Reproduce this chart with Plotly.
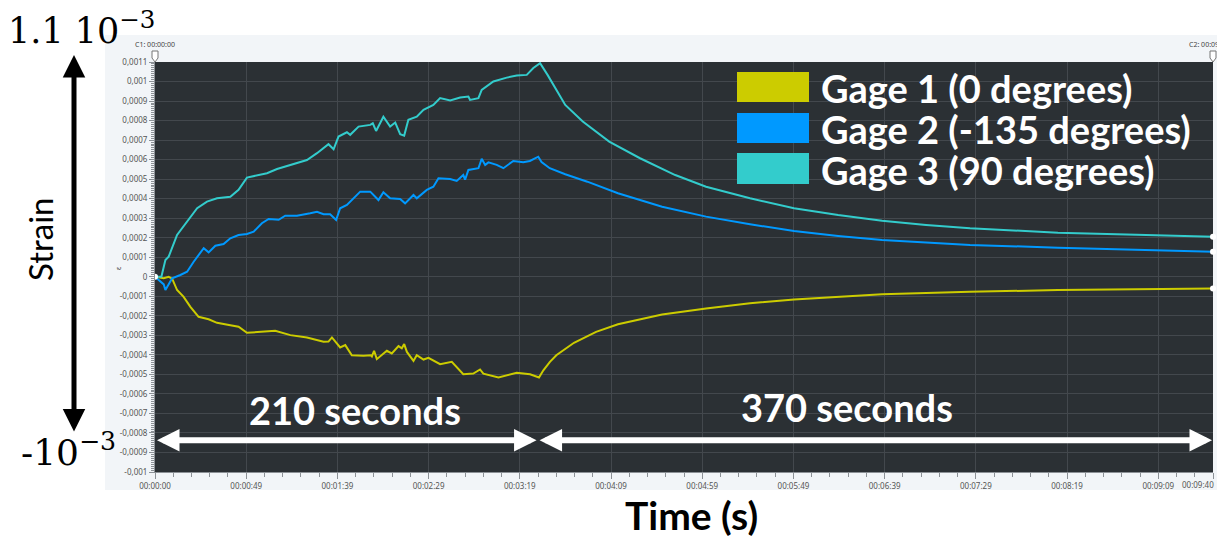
import numpy as np
import plotly.graph_objects as go

# ---------------- data (strain values in units of 1e-3) ----------------
gage_names = ["Gage 1 (0 degrees)", "Gage 2 (-135 degrees)", "Gage 3 (90 degrees)"]
gage_colors = ["#cccc00", "#0099ff", "#33cccc"]

gage1_t = [0, 4.8, 7.5, 9.4, 12.1, 15.7, 19.4, 23.9, 29.4, 34, 41.3, 45.8, 50.4, 57.7, 65.9,
           74.2, 83.3, 92.4, 95.1, 97, 101.5, 104.3, 107.9, 114.3, 118.3, 118.9, 120.1, 121.6,
           125.2, 127.1, 129.8, 131.6, 133.5, 135.3, 136.6, 138.1, 141.7, 143.5, 147.2, 149.9,
           156.3, 162.7, 169, 174.5, 178.2, 180, 188.3, 198.3, 205.6, 210.5, 212.9, 216.5, 220,
           229.7, 241.8, 253.8, 278, 302.1, 326.2, 350.3, 398.6, 446.8, 495, 580]
gage1_ms = [0, -0.008, 0.0, -0.01, -0.068, -0.103, -0.154, -0.205, -0.218, -0.236, -0.248, -0.256,
            -0.287, -0.282, -0.277, -0.299, -0.311, -0.333, -0.332, -0.311, -0.362, -0.35, -0.402,
            -0.405, -0.402, -0.408, -0.379, -0.422, -0.393, -0.379, -0.393, -0.372, -0.355, -0.366,
            -0.345, -0.385, -0.431, -0.402, -0.424, -0.415, -0.448, -0.436, -0.499, -0.496, -0.475,
            -0.496, -0.516, -0.492, -0.499, -0.516, -0.479, -0.436, -0.402, -0.338, -0.282, -0.243,
            -0.193, -0.162, -0.136, -0.116, -0.09, -0.077, -0.068, -0.06]

gage2_t = [0, 4.8, 5.7, 9.4, 13.9, 17.6, 21.2, 26.7, 29.4, 33.1, 37.6, 41.3, 45.8, 50.4, 54.1,
           58.6, 62.3, 67.8, 71.4, 77.8, 85.1, 88.8, 92.4, 96, 99.3, 101.5, 105.2, 107, 112.5,
           118, 122.5, 125.2, 128.9, 134.4, 137.1, 141.7, 143.5, 149, 152.6, 155.4, 161.8, 165.4,
           169, 170, 171.8, 177.3, 179.1, 181, 182.8, 187.3, 191, 196.4, 201.9, 205.5, 210.1,
           211.9, 216.4, 224.9, 237, 253.8, 278, 302.1, 326.2, 350.3, 374.5, 398.6, 446.8, 495,
           543.3, 580]
gage2_ms = [0, -0.039, -0.068, -0.008, 0.009, 0.026, 0.077, 0.146, 0.125, 0.159, 0.168, 0.197,
            0.214, 0.219, 0.231, 0.274, 0.296, 0.292, 0.313, 0.313, 0.325, 0.333, 0.32, 0.32,
            0.291, 0.351, 0.368, 0.385, 0.436, 0.436, 0.393, 0.433, 0.402, 0.398, 0.376, 0.419,
            0.402, 0.445, 0.461, 0.505, 0.501, 0.491, 0.521, 0.497, 0.547, 0.556, 0.604, 0.573,
            0.586, 0.573, 0.556, 0.593, 0.586, 0.593, 0.615, 0.588, 0.556, 0.525, 0.487, 0.428,
            0.359, 0.308, 0.269, 0.234, 0.209, 0.188, 0.163, 0.149, 0.137, 0.128]

gage3_t = [0, 3.5, 5.7, 7.5, 12.1, 17.6, 23.1, 28.5, 34, 41.3, 45.8, 50.4, 55.9, 61.4, 66.9,
           74.2, 83.3, 88.8, 95.1, 97.9, 100.6, 105.2, 107, 111.6, 118, 119.4, 121.2, 125.2,
           128.9, 131.7, 134.4, 136.6, 138.9, 143.5, 147.2, 152.6, 156.3, 161.8, 167.3, 171.8,
           172.7, 177.3, 179.1, 185.5, 192.8, 198.3, 203.8, 207.4, 211.1, 215.2, 224.9, 234.5,
           249, 265.9, 285.2, 302.1, 326.2, 350.3, 374.5, 398.6, 422.7, 446.8, 495, 543.3, 580]
gage3_ms = [0, 0, 0.086, 0.103, 0.214, 0.282, 0.351, 0.385, 0.402, 0.41, 0.445, 0.508, 0.518,
            0.53, 0.552, 0.573, 0.598, 0.633, 0.679, 0.653, 0.718, 0.74, 0.727, 0.769, 0.778,
            0.786, 0.747, 0.82, 0.769, 0.79, 0.73, 0.723, 0.804, 0.82, 0.855, 0.88, 0.915, 0.903,
            0.918, 0.923, 0.906, 0.915, 0.957, 1.0, 1.02, 1.031, 1.034, 1.069, 1.094, 1.034, 0.88,
            0.795, 0.692, 0.607, 0.521, 0.461, 0.402, 0.351, 0.316, 0.287, 0.265, 0.248, 0.226,
            0.214, 0.205]

x_tickvals = [0, 50, 100, 150, 200, 250, 300, 350, 400, 450, 500, 550, 580]
x_ticktext = ["00:00:00", "00:00:49", "00:01:39", "00:02:29", "00:03:19", "00:04:09", "00:04:59",
              "00:05:49", "00:06:39", "00:07:29", "00:08:19", "00:09:09", "00:09:40"]
y_tickvals = [-0.001, -0.0009, -0.0008, -0.0007, -0.0006, -0.0005, -0.0004, -0.0003, -0.0002,
              -0.0001, 0, 0.0001, 0.0002, 0.0003, 0.0004, 0.0005, 0.0006, 0.0007, 0.0008, 0.0009,
              0.001, 0.0011]
y_ticktext = ["-0,001", "-0,0009", "-0,0008", "-0,0007", "-0,0006", "-0,0005", "-0,0004",
              "-0,0003", "-0,0002", "-0,0001", "0", "0,0001", "0,0002", "0,0003", "0,0004",
              "0,0005", "0,0006", "0,0007", "0,0008", "0,0009", "0,001", "0,0011"]

phase_seconds = [210, 370]
phase_labels = ["210 seconds", "370 seconds"]

# ---------------- figure ----------------
series = [(gage1_t, gage1_ms), (gage2_t, gage2_ms), (gage3_t, gage3_ms)]
fig = go.Figure()
for (t, ms), name, col in zip(series, gage_names, gage_colors):
    fig.add_trace(go.Scatter(x=t, y=np.array(ms) * 1e-3, mode="lines", name=name,
                             line=dict(color=col, width=2), showlegend=False,
                             hoverinfo="skip"))

# end-point dots
fig.add_trace(go.Scatter(
    x=[gage1_t[0]] + [t[-1] for t, _ in series],
    y=[gage1_ms[0] * 1e-3] + [ms[-1] * 1e-3 for _, ms in series],
    mode="markers", marker=dict(color="white", size=6), cliponaxis=False,
    showlegend=False, hoverinfo="skip"))

PANEL = "#f2f5f8"
PLOTBG = "#2b3034"
GRID = "#43484d"
AXC = "#8c9196"
TICKFONT = dict(family="Noto Sans", size=8, color="#555")

W, H = 1217, 537
L, R, T, B = 155, 4, 62, 65
pw, ph = W - L - R, H - T - B


def px(xp):
    return (xp - L) / pw


def py(yp):
    return (H - B - yp) / ph


shapes = [
    dict(type="rect", xref="paper", yref="paper", x0=px(105), x1=px(1220), y0=py(490), y1=py(35),
         fillcolor=PANEL, line_width=0, layer="below"),
    dict(type="rect", xref="paper", yref="paper", x0=0, x1=1, y0=0, y1=1,
         fillcolor=PLOTBG, line_width=0, layer="below"),
]
# cursor flags
for cx in (155, 1213):
    shapes.append(dict(type="path", xref="paper", yref="paper",
                       path=f"M{px(cx-3)},{py(51)} L{px(cx+3)},{py(51)} L{px(cx+3)},{py(58)} "
                            f"L{px(cx)},{py(62)} L{px(cx-3)},{py(58)} Z",
                       fillcolor="white", line=dict(color="#777", width=1)))
# legend swatches
sw_y = [(72, 102), (113, 143), (153, 184)]
for (y0, y1), col in zip(sw_y, gage_colors):
    shapes.append(dict(type="rect", xref="paper", yref="paper", x0=px(737), x1=px(809),
                       y0=py(y1), y1=py(y0), fillcolor=col, line_width=0))

ann = []
for (y0, y1), name in zip(sw_y, gage_names):
    ann.append(dict(xref="paper", yref="paper", x=px(819), y=py((y0 + y1) / 2 + 1),
                    xanchor="left", yanchor="middle", text=f"<b>{name}</b>", showarrow=False,
                    font=dict(family="Lato", size=38, color="white")))

# phase arrows and labels
arrow_y = -0.000837
ann.append(dict(x=0, y=arrow_y, ax=phase_seconds[0], ay=arrow_y, xref="x", yref="y",
                axref="x", ayref="y", text="", showarrow=True, arrowside="end+start",
                arrowhead=2, startarrowhead=2, arrowsize=0.75, startarrowsize=0.75,
                arrowwidth=6, arrowcolor="white", standoff=2, startstandoff=0))
ann.append(dict(x=sum(phase_seconds), y=arrow_y, ax=phase_seconds[0], ay=arrow_y, xref="x",
                yref="y", axref="x", ayref="y", text="", showarrow=True, arrowside="end+start",
                arrowhead=2, startarrowhead=2, arrowsize=0.75, startarrowsize=0.75,
                arrowwidth=6, arrowcolor="white", standoff=1, startstandoff=0))
ann.append(dict(x=109.7, y=-0.000683, xref="x", yref="y", text=f"<b>{phase_labels[0]}</b>",
                xanchor="center", yanchor="middle", showarrow=False,
                font=dict(family="Lato", size=38, color="white")))
ann.append(dict(x=379.5, y=-0.000667, xref="x", yref="y", text=f"<b>{phase_labels[1]}</b>",
                xanchor="center", yanchor="middle", showarrow=False,
                font=dict(family="Lato", size=38, color="white")))

# left strain annotation
ann.append(dict(xref="paper", yref="paper", x=px(6), y=py(3), xanchor="left", yanchor="top",
                text="1.1 10<sup>−3</sup>", showarrow=False,
                font=dict(family="DejaVu Serif", size=35, color="black")))
ann.append(dict(xref="paper", yref="paper", x=px(19), y=py(450), xanchor="left",
                yanchor="middle", text="-10<sup>−3</sup>", showarrow=False,
                font=dict(family="DejaVu Serif", size=36, color="black")))
ann.append(dict(xref="paper", yref="paper", x=px(40), y=py(240), text="Strain", textangle=-90,
                xanchor="center", yanchor="middle", showarrow=False,
                font=dict(family="Lato", size=33, color="black")))
ann.append(dict(xref="paper", yref="paper", x=px(74), y=py(55), ax=0, ay=378, text="",
                showarrow=True, arrowside="end+start", arrowhead=2, startarrowhead=2,
                arrowsize=0.9, startarrowsize=0.9, arrowwidth=5, arrowcolor="black",
                standoff=0, startstandoff=0))
ann.append(dict(xref="paper", yref="paper", x=px(691), y=py(515), text="<b>Time (s)</b>",
                xanchor="center", yanchor="middle", showarrow=False,
                font=dict(family="Lato", size=39, color="black")))

# last x tick label, kept inside the page as in the original software
ann.append(dict(xref="x", yref="paper", x=x_tickvals[-1], y=py(484), xanchor="right",
                yanchor="middle", xshift=3, text=x_ticktext[-1], showarrow=False,
                font=TICKFONT))

# small software labels
ann.append(dict(xref="paper", yref="paper", x=px(155), y=py(45), text="C1: 00:00:00",
                xanchor="center", yanchor="middle", showarrow=False,
                font=dict(family="Noto Sans", size=7, color="#444")))
ann.append(dict(xref="paper", yref="paper", x=px(1187), y=py(45), xanchor="left",
                yanchor="middle", text="C2: 00:09:40", showarrow=False,
                font=dict(family="Noto Sans", size=7, color="#444")))
ann.append(dict(xref="paper", yref="paper", x=px(118), y=py(268), text="ε", textangle=-90,
                xanchor="center", yanchor="middle", showarrow=False,
                font=dict(family="Noto Sans", size=7, color="#444")))

fig.update_layout(
    width=W, height=H, autosize=False,
    margin=dict(l=L, r=R, t=T, b=B, pad=0),
    paper_bgcolor="white", plot_bgcolor=PLOTBG,
    showlegend=False, shapes=shapes, annotations=ann,
    xaxis=dict(range=[0, 580], tickmode="array", tickvals=x_tickvals,
               ticktext=x_ticktext[:-1] + [""],
               ticks="outside", ticklen=6, tickcolor=AXC, showline=True, linecolor=AXC,
               gridcolor=GRID, gridwidth=1, zeroline=False, tickfont=TICKFONT,
               minor=dict(tickmode="linear", tick0=0, dtick=10, ticks="outside", ticklen=4,
                          tickcolor=AXC, showgrid=False)),
    yaxis=dict(range=[-0.001, 0.0011], tickmode="array", tickvals=y_tickvals,
               ticktext=y_ticktext, ticks="outside", ticklen=5, tickcolor=AXC, showline=True,
               linecolor=AXC, gridcolor=GRID, gridwidth=1, zeroline=False, tickfont=TICKFONT,
               minor=dict(tickmode="linear", tick0=0, dtick=0.00001, ticks="outside",
                          ticklen=3, tickcolor=AXC, showgrid=False)),
)

fig.write_html("out.html", config={"displayModeBar": False},
               post_script="document.body.style.margin='0';document.body.style.overflow='hidden';")
